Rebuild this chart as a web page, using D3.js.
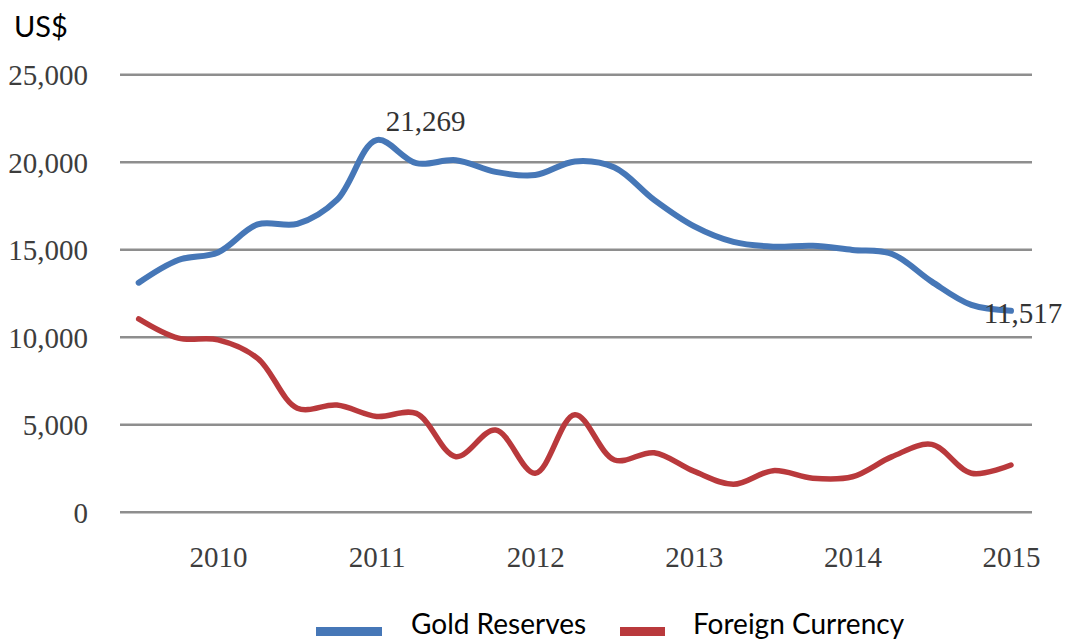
<!DOCTYPE html>
<html>
<head>
<meta charset="utf-8">
<script src="https://cdn.jsdelivr.net/npm/d3@7"></script>
<style>
  html, body { margin: 0; padding: 0; background: #fff; }
  svg { display: block; }
</style>
</head>
<body>
<svg id="chart" width="1080" height="639"></svg>
<script>
// ---- data ----
const periods = [2009.5, 2009.75, 2010.0, 2010.25, 2010.5, 2010.75, 2011.0, 2011.25, 2011.5, 2011.75,
                 2012.0, 2012.25, 2012.5, 2012.75, 2013.0, 2013.25, 2013.5, 2013.75, 2014.0, 2014.25,
                 2014.5, 2014.75, 2015.0];
const goldReserves = [13120, 14420, 14850, 16450, 16480, 17850, 21269, 19950, 20120, 19450,
                      19270, 20050, 19700, 17850, 16350, 15450, 15180, 15230, 14990, 14760,
                      13180, 11850, 11517];
const foreignCurrency = [11050, 9950, 9850, 8800, 5950, 6130, 5480, 5650, 3180, 4700,
                         2230, 5580, 2990, 3400, 2350, 1600, 2380, 1950, 2030, 3180,
                         3880, 2230, 2700];
const yearTicks = [2010, 2011, 2012, 2013, 2014, 2015];
const valueTicks = [0, 5000, 10000, 15000, 20000, 25000];
const seriesNames = ["Gold Reserves", "Foreign Currency"];
const seriesColors = ["#4677b7", "#b9393c"];
const annotations = [{ series: 0, index: 6, text: "21,269" }, { series: 0, index: 22, text: "11,517" }];

// ---- chart ----
const svg = d3.select("#chart");
const x = d3.scaleLinear().domain([2010, 2015]).range([218, 1011]);
const y = d3.scaleLinear().domain([0, 25000]).range([512.3, 74.8]);
const gridX0 = 120, gridX1 = 1032;

// gridlines
svg.append("g").selectAll("line").data(valueTicks).join("line")
  .attr("x1", gridX0).attr("x2", gridX1)
  .attr("y1", d => y(d)).attr("y2", d => y(d))
  .attr("stroke", "#8e8e8e").attr("stroke-width", 2.6);

// y axis labels
const yAxis = d3.axisLeft(y).tickValues(valueTicks).tickFormat(d3.format(",")).tickSize(0).tickPadding(0);
const gy = svg.append("g").attr("transform", "translate(88,0)").call(yAxis);
gy.select(".domain").remove();
gy.selectAll("text").attr("font-family", "'Liberation Serif', serif").attr("font-size", 29)
  .attr("fill", "#3d3d3d").attr("dy", "0.34em");

// x axis labels
const xAxis = d3.axisBottom(x).tickValues(yearTicks).tickFormat(d3.format("d")).tickSize(0).tickPadding(0);
const gx = svg.append("g").attr("transform", "translate(0,546)").call(xAxis);
gx.select(".domain").remove();
gx.selectAll("text").attr("font-family", "'Liberation Serif', serif").attr("font-size", 29)
  .attr("fill", "#3d3d3d").attr("dy", "0.71em");

// lines
const allSeries = [goldReserves, foreignCurrency];
const line = d3.line()
  .x((d, i) => x(periods[i]))
  .y(d => y(d))
  .curve(d3.curveCatmullRom.alpha(0.5));

svg.append("g").selectAll("path").data(allSeries).join("path")
  .attr("d", d => line(d))
  .attr("fill", "none")
  .attr("stroke", (d, i) => seriesColors[i])
  .attr("stroke-width", (d, i) => i === 0 ? 6 : 5.5)
  .attr("stroke-linecap", "round")
  .attr("stroke-linejoin", "round");

// annotations
const annOffsets = [{ dx: 49, dy: -9 }, { dx: 12, dy: 12 }];
svg.append("g").selectAll("text").data(annotations).join("text")
  .attr("x", (d, i) => x(periods[d.index]) + annOffsets[i].dx)
  .attr("y", (d, i) => y(allSeries[d.series][d.index]) + annOffsets[i].dy)
  .attr("text-anchor", "middle")
  .attr("font-family", "'Liberation Serif', serif").attr("font-size", 29)
  .attr("fill", "#333")
  .text(d => d.text);

// unit label
svg.append("text").attr("x", 14).attr("y", 37)
  .attr("font-family", "Lato, 'Open Sans', sans-serif").attr("font-size", 29)
  .attr("fill", "#000").text("US$");

// legend
const legendItems = [
  { name: seriesNames[0], color: seriesColors[0], sx: 316, sw: 66, tx: 411 },
  { name: seriesNames[1], color: seriesColors[1], sx: 620, sw: 45, tx: 693 }
];
const lg = svg.append("g");
lg.selectAll("rect").data(legendItems).join("rect")
  .attr("x", d => d.sx).attr("y", 627).attr("width", d => d.sw).attr("height", 9)
  .attr("fill", d => d.color);
lg.selectAll("text").data(legendItems).join("text")
  .attr("x", d => d.tx).attr("y", 634)
  .attr("font-family", "Lato, 'Open Sans', sans-serif").attr("font-size", 28)
  .attr("fill", "#000").text(d => d.name);
</script>
</body>
</html>
